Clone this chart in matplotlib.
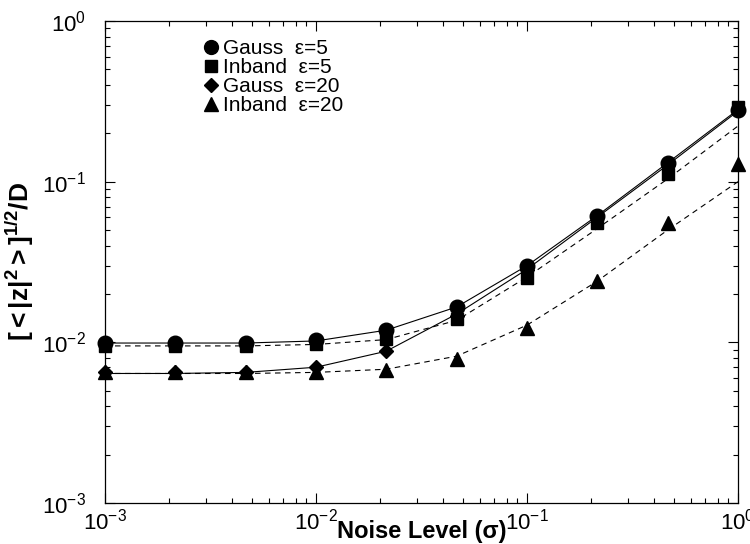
import matplotlib
matplotlib.use("Agg")
import matplotlib.pyplot as plt
from matplotlib.ticker import LogLocator, NullFormatter

plt.rcParams['font.family'] = ['Liberation Sans', 'DejaVu Sans']
plt.rcParams['mathtext.fontset'] = 'custom'
plt.rcParams['mathtext.rm'] = 'Liberation Sans'
plt.rcParams['mathtext.it'] = 'Liberation Sans'
plt.rcParams['mathtext.bf'] = 'Liberation Sans:bold'
plt.rcParams['mathtext.default'] = 'regular'
plt.rcParams['axes.unicode_minus'] = False

# noise levels
sigma = [0.001, 0.00215, 0.00464, 0.01, 0.0215, 0.0464, 0.1, 0.215, 0.464, 1.0]

# measured points
gauss_e5 = [0.0099, 0.0099, 0.0099, 0.0103, 0.0120, 0.0166, 0.0300, 0.0614, 0.130, 0.281]
inband_e5 = [0.0095, 0.0095, 0.0095, 0.0097, 0.0105, 0.0140, 0.0253, 0.0555, 0.112, 0.290]
gauss_e20 = [0.0065, 0.0065, 0.0065, 0.0070, 0.0088, 0.0145, 0.0280, 0.0600, 0.127, 0.280]
inband_e20 = [0.0065, 0.0065, 0.0065, 0.0065, 0.0067, 0.0079, 0.0123, 0.0240, 0.0555, 0.129]

# fitted curves
fit_gauss_e5 = [0.0099, 0.0099, 0.0099, 0.0102, 0.0119, 0.0166, 0.0300, 0.0614, 0.131, 0.281]
fit_gauss_e20 = [0.0064, 0.0064, 0.0065, 0.0070, 0.0088, 0.0150, 0.0285, 0.0600, 0.127, 0.275]
fit_inband_e5 = [0.0095, 0.0095, 0.0095, 0.0097, 0.0104, 0.0137, 0.0255, 0.0510, 0.104, 0.222]
fit_inband_e20 = [0.0064, 0.0064, 0.0064, 0.0065, 0.0068, 0.0082, 0.0128, 0.0240, 0.050, 0.100]

labels = ['Gauss  \u03b5=5', 'Inband  \u03b5=5', 'Gauss  \u03b5=20', 'Inband  \u03b5=20']

fig = plt.figure(figsize=(7.5, 5.44), dpi=100)
W, H = 750.0, 544.0
left, right, top, bottom = 105, 738, 21, 503
ax = fig.add_axes([left / W, 1 - bottom / H, (right - left) / W, (bottom - top) / H])

lw = 0.8
ax.plot(sigma, fit_gauss_e5, '-', color='black', lw=lw)
ax.plot(sigma, fit_gauss_e20, '-', color='black', lw=lw)
ax.plot(sigma, fit_inband_e5, '--', color='black', lw=lw, dashes=(5, 4))
ax.plot(sigma, fit_inband_e20, '--', color='black', lw=lw, dashes=(5, 4))

h1, = ax.plot(sigma, gauss_e5, 'o', color='black', ms=10.5, ls='none', clip_on=False)
h2, = ax.plot(sigma, inband_e5, 's', color='black', ms=9, ls='none', clip_on=False)
h3, = ax.plot(sigma, gauss_e20, 'D', color='black', ms=7.5, ls='none', clip_on=False)
h4, = ax.plot(sigma, inband_e20, '^', color='black', ms=10.5, ls='none', clip_on=False)

ax.set_xscale('log')
ax.set_yscale('log')
ax.set_xlim(1e-3, 1)
ax.set_ylim(1e-3, 1)

for axis in (ax.xaxis, ax.yaxis):
    axis.set_major_locator(LogLocator(base=10, numticks=10))
    axis.set_minor_locator(LogLocator(base=10, subs=range(2, 10), numticks=10))
    axis.set_minor_formatter(NullFormatter())

ax.tick_params(which='both', direction='in', top=True, right=True, width=0.8)
ax.tick_params(which='major', length=7, labelsize=16)
ax.tick_params(which='minor', length=3.5)
ax.tick_params(axis='y', which='major', pad=14)
ax.tick_params(axis='x', which='major', pad=4)

for s in ax.spines.values():
    s.set_linewidth(0.9)

ax.set_xlabel('Noise Level (\u03c3)', fontsize=17, fontweight='bold')
ax.xaxis.set_label_coords(0.5, -0.035)
ax.set_ylabel(r'$\mathbf{[<|z|^{2}>]^{1/2}/D}$', fontsize=19, labelpad=4)

leg = ax.legend([h1, h2, h3, h4], labels, loc='upper left',
                bbox_to_anchor=(0.145, 0.979), frameon=False, fontsize=15,
                handlelength=0.6, handletextpad=0.25, labelspacing=0.0,
                borderaxespad=0, markerscale=0.95)

fig.savefig('out.png', dpi=100)
